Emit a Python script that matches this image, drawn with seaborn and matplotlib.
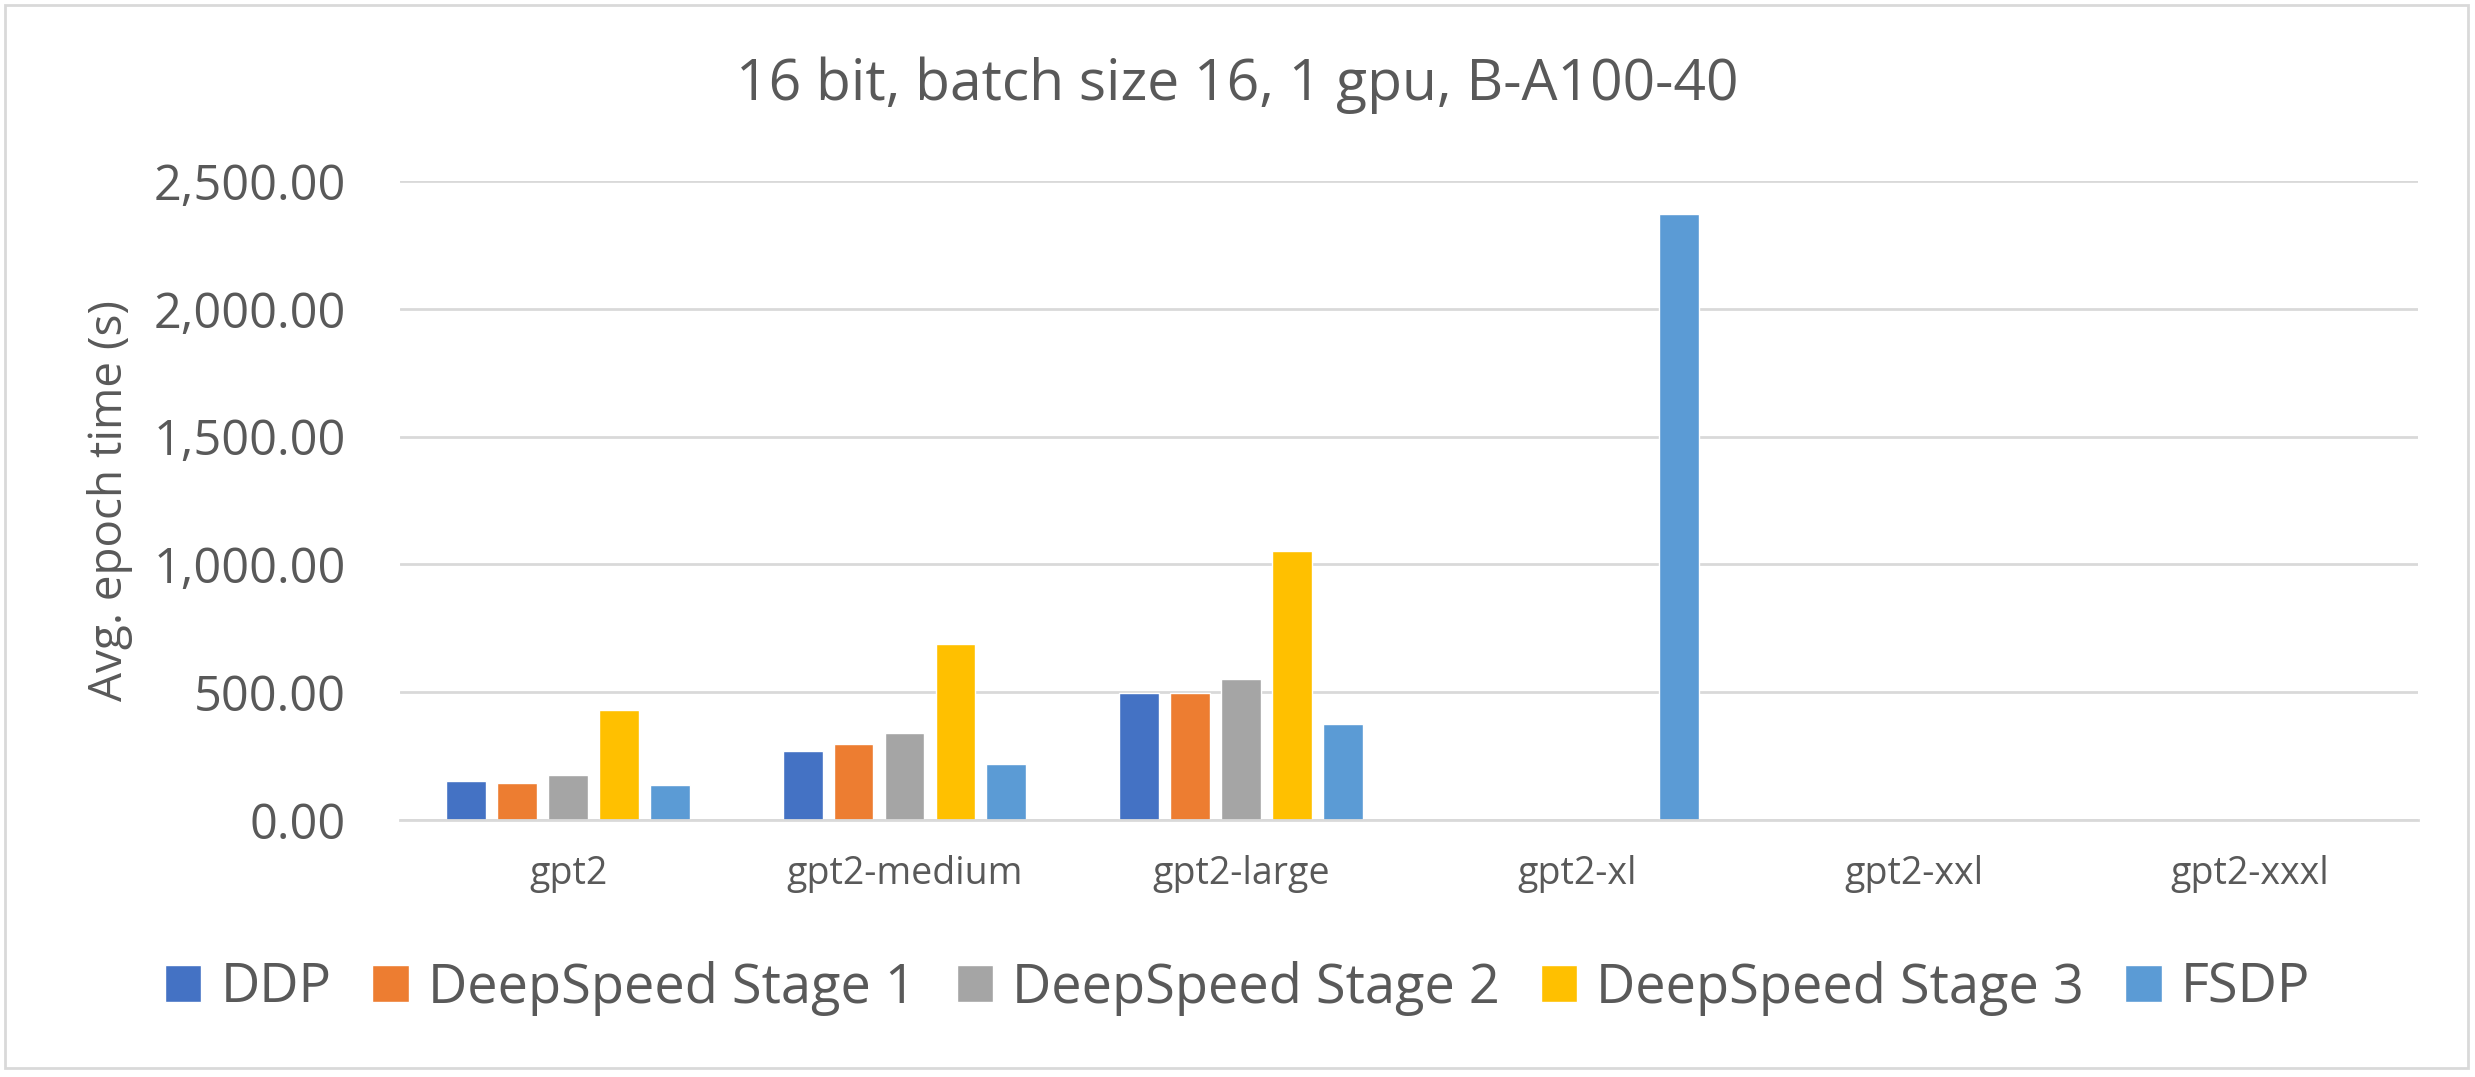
import seaborn as sns
import matplotlib.pyplot as plt
import numpy as np
import pandas as pd
from matplotlib.patches import Rectangle

models = ["gpt2", "gpt2-medium", "gpt2-large", "gpt2-xl", "gpt2-xxl", "gpt2-xxxl"]
strategies = ["DDP", "DeepSpeed Stage 1", "DeepSpeed Stage 2", "DeepSpeed Stage 3", "FSDP"]
nan = np.nan
ddp = [151, 268, 497, nan, nan, nan]
ds_stage1 = [146, 298, 497, nan, nan, nan]
ds_stage2 = [178, 341, 553, nan, nan, nan]
ds_stage3 = [432, 689, 1051, nan, nan, nan]
fsdp = [135, 221, 374, 2371, nan, nan]
colors = ["#4472C4", "#ED7D31", "#A5A5A5", "#FFC000", "#5B9BD5"]

series = [ddp, ds_stage1, ds_stage2, ds_stage3, fsdp]
rows = []
for name, vals in zip(strategies, series):
    for m, v in zip(models, vals):
        rows.append({"model": m, "strategy": name, "time": v})
df = pd.DataFrame(rows)

sns.set_style("white")
plt.rcParams["font.family"] = ["Open Sans", "DejaVu Sans"]
grey = "#595959"

fig = plt.figure(figsize=(24.75, 10.77), dpi=100)
ax = fig.add_axes([400 / 2475, 1 - 820 / 1077, 2018 / 2475, 639 / 1077])

sns.barplot(
    data=df, x="model", y="time", hue="strategy",
    order=models, hue_order=strategies, palette=colors,
    width=0.758, gap=0.216, errorbar=None, ax=ax, saturation=1,
)

ticks = np.arange(0, 2501, 500)
ax.set_ylim(0, 2500)
ax.set_yticks(ticks)
ax.set_yticklabels([f"{v:,.2f}" for v in ticks])
ax.yaxis.grid(True, color="#D9D9D9", linewidth=2)
ax.set_axisbelow(True)
for s in ["top", "right", "left"]:
    ax.spines[s].set_visible(False)
ax.spines["bottom"].set_color("#D9D9D9")
ax.spines["bottom"].set_linewidth(2)
ax.tick_params(axis="y", length=0, labelsize=35, colors=grey, pad=39)
ax.tick_params(axis="x", length=0, labelsize=27, colors=grey, pad=25)
ax.set_xlabel("")
ax.set_ylabel("Avg. epoch time (s)", fontsize=33, color=grey, labelpad=15)

fig.text(0.5, 1 - 100 / 1077, "16 bit, batch size 16, 1 gpu, B-A100-40",
         ha="center", va="baseline", fontsize=41, color=grey)

handles, labels = ax.get_legend_handles_labels()
ax.get_legend().remove()
fig.legend(
    handles, labels, loc="center", bbox_to_anchor=(0.5, 1 - 988 / 1077), ncol=5,
    frameon=False, fontsize=39, labelcolor=grey,
    handlelength=0.67, handleheight=0.68, handletextpad=0.35, columnspacing=0.76,
)

fig.patches.append(Rectangle((5 / 2475, 1 - 1068 / 1077), 2463 / 2475, 1063 / 1077,
                             transform=fig.transFigure, fill=False,
                             edgecolor="#D9D9D9", linewidth=2))

fig.savefig("out.png", dpi=100, facecolor="white")
